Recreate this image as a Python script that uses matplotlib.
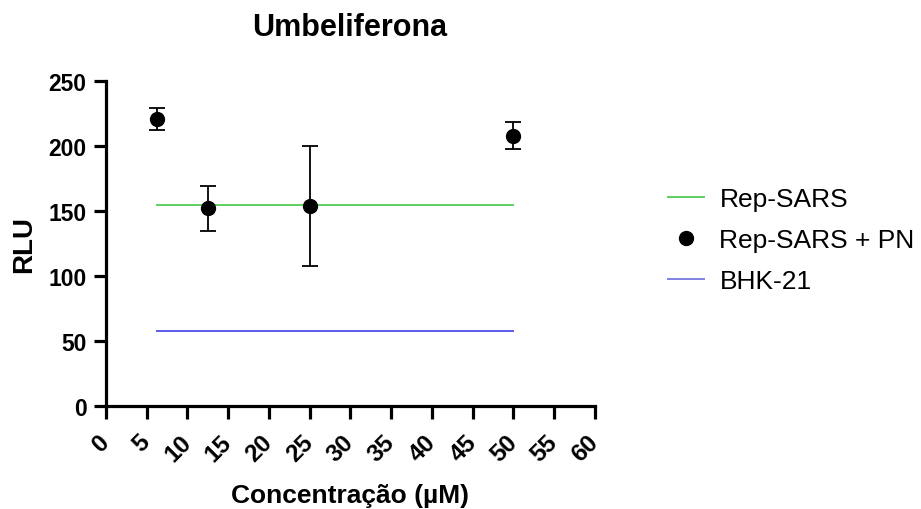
import matplotlib
matplotlib.use("Agg")
import matplotlib.pyplot as plt
from matplotlib.lines import Line2D

plt.rcParams['font.family'] = ['Liberation Sans', 'DejaVu Sans']

# Concentrations (µM) and measured luminescence
conc = [6.25, 12.5, 25, 50]
rlu_pn = [221, 152, 154, 208]
rlu_pn_err = [8.5, 17.5, 46, 10.5]

# Reference levels drawn across the concentration range
rep_sars_level = 154.5
bhk21_level = 57.5
level_span = [6.25, 50]

x_ticks = list(range(0, 61, 5))
y_ticks = [0, 50, 100, 150, 200, 250]

green = '#5fcf5f'
blue = '#5a5ae6'

fig = plt.figure(figsize=(9.21, 5.10), dpi=100)
ax = fig.add_axes([0.115, 0.202, 0.531, 0.637])

ax.plot(level_span, [rep_sars_level] * 2, color=green, lw=1.4, zorder=2)
ax.plot(level_span, [bhk21_level] * 2, color=blue, lw=1.4, zorder=2)
ax.errorbar(conc, rlu_pn, yerr=rlu_pn_err, fmt='o', color='black',
            ms=10, elinewidth=1.3, capsize=6, capthick=1.3, zorder=3)

ax.set_xlim(0, 60)
ax.set_ylim(0, 250)
ax.set_xticks(x_ticks)
ax.set_yticks(y_ticks)
ax.set_xticklabels([str(t) for t in x_ticks], rotation=45, ha='right',
                   va='center', rotation_mode='anchor',
                   fontsize=17.5, fontweight='bold')
ax.set_yticklabels([str(t) for t in y_ticks], fontsize=16.5, fontweight='bold')

for side in ['top', 'right']:
    ax.spines[side].set_visible(False)
for side in ['left', 'bottom']:
    ax.spines[side].set_linewidth(2.3)
ax.tick_params(axis='both', direction='out', length=9, width=2.3)
ax.tick_params(axis='y', pad=5)
ax.tick_params(axis='x', pad=14)

ax.set_xlabel('Concentração (µM)', fontsize=19, fontweight='bold', va='center')
ax.xaxis.set_label_coords(0.5, -0.274)
ax.set_ylabel('RLU', fontsize=20, fontweight='bold', va='center')
ax.yaxis.set_label_coords(-0.168, 0.5)

fig.text(350 / 921, 1 - 28 / 510, 'Umbeliferona', fontsize=22,
         fontweight='bold', ha='center', va='center')

handles = [
    Line2D([], [], color=green, lw=1.4),
    Line2D([], [], color='black', marker='o', ls='none', ms=10),
    Line2D([], [], color='#8080e0', lw=1.4),
]
labels = ['Rep-SARS', 'Rep-SARS + PN', 'BHK-21']
fig.legend(handles, labels, loc='center left',
           bbox_to_anchor=(668 / 921, 1 - 241 / 510),
           frameon=False, fontsize=19, handlelength=1.35, handletextpad=0.6,
           labelspacing=0.64, borderpad=0, borderaxespad=0)

fig.savefig('out.png', dpi=100)
